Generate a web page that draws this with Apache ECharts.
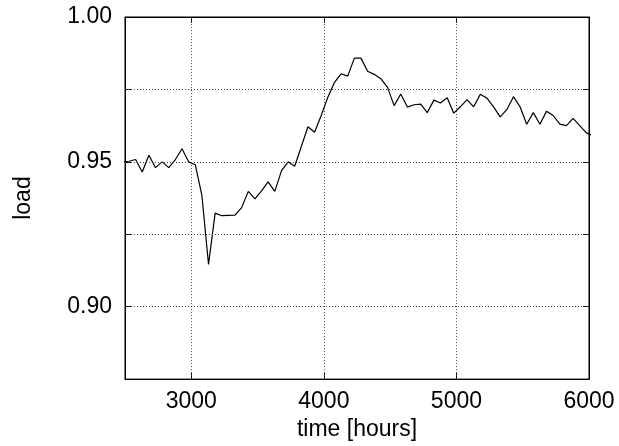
<!DOCTYPE html>
<html>
<head>
<meta charset="utf-8">
<script src="https://cdn.jsdelivr.net/npm/echarts@6/dist/echarts.min.js"></script>
<style>html,body{margin:0;padding:0;background:#fff}#c{width:619px;height:446px}</style>
</head>
<body>
<div id="c"></div>
<script>
var times = [2480,2530,2580,2630,2680,2730,2780,2830,2880,2930,2980,3030,3080,3130,3180,3230,3280,3330,3380,3430,3480,3530,3580,3630,3680,3730,3780,3830,3880,3930,3980,4030,4080,4130,4180,4230,4280,4330,4380,4430,4480,4530,4580,4630,4680,4730,4780,4830,4880,4930,4980,5030,5080,5130,5180,5230,5280,5330,5380,5430,5480,5530,5580,5630,5680,5730,5780,5830,5880,5930,5980,6030];
var load = [0.950,0.9502,0.9508,0.9465,0.9523,0.948,0.950,0.948,0.9508,0.9545,0.950,0.949,0.9384,0.9146,0.9323,0.9314,0.9315,0.9316,0.9342,0.9398,0.9372,0.940,0.9431,0.9398,0.9469,0.950,0.9485,0.9553,0.9621,0.9602,0.966,0.9723,0.9774,0.9804,0.9796,0.9858,0.9858,0.9813,0.9802,0.9787,0.9757,0.9694,0.9734,0.9689,0.9697,0.9699,0.967,0.9713,0.9703,0.9721,0.9668,0.969,0.9715,0.969,0.9733,0.972,0.969,0.9655,0.968,0.9725,0.969,0.963,0.967,0.963,0.9675,0.966,0.963,0.9625,0.965,0.9625,0.960,0.959];
var xTickValues = [3000,4000,5000,6000];
var xGridValues = [3000,4000,5000];
var yGridValues = [0.900,0.925,0.950,0.975];
var yLabelValues = [0.90,0.95,1.00];

var FONT = 'Liberation Sans, Arial, sans-serif';
var chart = echarts.init(document.getElementById('c'), null, {renderer:'canvas'});
var pts = times.map(function(t,i){return [t, load[i]];});
var marks = xGridValues.map(function(v){return {xAxis:v};}).concat(yGridValues.map(function(v){return {yAxis:v};}));
function yfmt(v){
  var r = Math.round(v*1000);
  for (var i=0;i<yLabelValues.length;i++) if (Math.round(yLabelValues[i]*1000)===r) return v.toFixed(2);
  return '';
}
chart.setOption({
  animation:false,
  grid:{left:125,right:30,top:17,bottom:61,show:true,borderColor:'#000',borderWidth:1,containLabel:false},
  xAxis:[{
    type:'value',min:2500,max:6000,interval:500,position:'bottom',
    name:'time [hours]',nameLocation:'middle',nameGap:33,
    nameTextStyle:{fontFamily:FONT,fontSize:23,color:'#000'},
    axisLine:{show:true,lineStyle:{color:'#000',width:1}},
    axisTick:{show:true,inside:true,length:6,customValues:xGridValues,lineStyle:{color:'#000'}},
    axisLabel:{show:true,customValues:xTickValues,margin:11,fontFamily:FONT,fontSize:23,color:'#000',
      formatter:function(v){return String(v);}},
    splitLine:{show:false}
  },{
    type:'value',min:2500,max:6000,interval:500,position:'top',
    axisLine:{show:true,lineStyle:{color:'#000'}},
    axisTick:{show:true,inside:true,length:6,customValues:xGridValues,lineStyle:{color:'#000'}},
    axisLabel:{show:false},splitLine:{show:false}
  }],
  yAxis:[{
    type:'value',min:0.875,max:1.0,interval:0.025,position:'left',
    name:'load',nameLocation:'middle',nameGap:90,nameRotate:90,
    nameTextStyle:{fontFamily:FONT,fontSize:23,color:'#000'},
    axisLine:{show:true,lineStyle:{color:'#000',width:1}},
    axisTick:{show:true,inside:true,length:6,customValues:yGridValues,lineStyle:{color:'#000'}},
    axisLabel:{show:true,margin:13,fontFamily:FONT,fontSize:23,color:'#000',formatter:yfmt},
    splitLine:{show:false}
  },{
    type:'value',min:0.875,max:1.0,interval:0.025,position:'right',
    axisLine:{show:true,lineStyle:{color:'#000'}},
    axisTick:{show:true,inside:true,length:6,customValues:yGridValues,lineStyle:{color:'#000'}},
    axisLabel:{show:false},splitLine:{show:false}
  }],
  series:[{
    type:'line',data:pts,showSymbol:false,symbol:'none',clip:true,
    lineStyle:{color:'#000',width:1.2},
    markLine:{silent:true,symbol:'none',precision:4,label:{show:false},animation:false,
      lineStyle:{color:'#444',type:[1,2],width:1},data:marks}
  }]
});
</script>
</body>
</html>
